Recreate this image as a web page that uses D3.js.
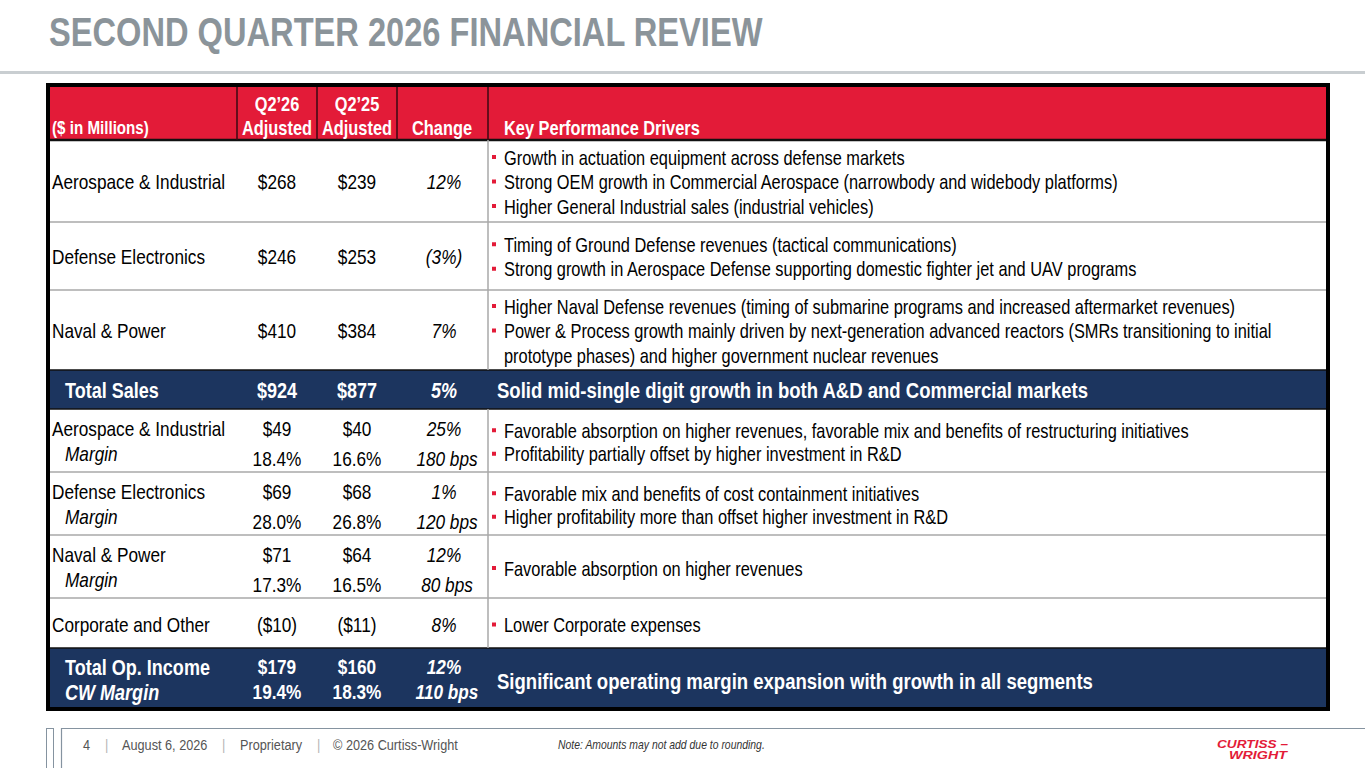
<!DOCTYPE html>
<html>
<head>
<meta charset="utf-8">
<script src="https://cdn.jsdelivr.net/npm/d3@7"></script>
<style>
  html, body { margin: 0; padding: 0; background: #fff; }
  svg { display: block; }
</style>
</head>
<body>
<div id="chart"></div>
<script>
// ---- data ----
const title = 'SECOND QUARTER 2026 FINANCIAL REVIEW'
const headers = ['($ in Millions)', ['Q2\u201926', 'Adjusted'], ['Q2\u201925', 'Adjusted'], 'Change', 'Key Performance Drivers']

const salesSegments = ['Aerospace & Industrial', 'Defense Electronics', 'Naval & Power']
const salesQ226 = [268, 246, 410]
const salesQ225 = [239, 253, 384]
const salesChange = [12, -3, 7]
const salesDrivers = [
  [['Growth in actuation equipment across defense markets'],
   ['Strong OEM growth in Commercial Aerospace (narrowbody and widebody platforms)'],
   ['Higher General Industrial sales (industrial vehicles)']],
  [['Timing of Ground Defense revenues (tactical communications)'],
   ['Strong growth in Aerospace Defense supporting domestic fighter jet and UAV programs']],
  [['Higher Naval Defense revenues (timing of submarine programs and increased aftermarket revenues)'],
   ['Power & Process growth mainly driven by next-generation advanced reactors (SMRs transitioning to initial',
    'prototype phases) and higher government nuclear revenues']]
]
const totalSales = [924, 877, 5]
const totalSalesDriver = 'Solid mid-single digit growth in both A&D and Commercial markets'

const opSegments = ['Aerospace & Industrial', 'Defense Electronics', 'Naval & Power', 'Corporate and Other']
const opQ226 = [49, 69, 71, -10]
const opQ225 = [40, 68, 64, -11]
const opChange = [25, 1, 12, 8]
const marginQ226 = [18.4, 28.0, 17.3]
const marginQ225 = [16.6, 26.8, 16.5]
const marginBps = [180, 120, 80]
const opDrivers = [
  [['Favorable absorption on higher revenues, favorable mix and benefits of restructuring initiatives'],
   ['Profitability partially offset by higher investment in R&D']],
  [['Favorable mix and benefits of cost containment initiatives'],
   ['Higher profitability more than offset higher investment in R&D']],
  [['Favorable absorption on higher revenues']],
  [['Lower Corporate expenses']]
]
const totalOp = [179, 160, 12]
const cwMargin = [19.4, 18.3, 110]
const totalOpDriver = 'Significant operating margin expansion with growth in all segments'

const footerParts = ['4', '|', 'August 6, 2026', '|', 'Proprietary', '|', '\u00a9 2026 Curtiss-Wright']
const footerNote = 'Note: Amounts may not add due to rounding.'
const logoLines = ['CURTISS \u2013', 'WRIGHT']

// ---- formats ----
const money = v => v < 0 ? `($${-v})` : `$${v}`
const pct = v => v < 0 ? `(${-v}%)` : `${v}%`
const marg = v => d3.format('.1f')(v) + '%'
const bps = v => `${v} bps`

// ---- layout ----
const width = 1365
const height = 768
const RED = '#e31b38'
const NAVY = '#1c355f'

// narrow font check, fall back to squeezed Liberation Sans
function hasFont(name) {
  const c = document.createElement('canvas').getContext('2d')
  c.font = '40px monospace'
  const a = c.measureText('abcdefghijMWil').width
  c.font = `40px "${name}", monospace`
  return c.measureText('abcdefghijMWil').width !== a
}
const NARROW = hasFont('Liberation Sans Narrow')
const FAM = NARROW ? '"Liberation Sans Narrow", "Arial Narrow", sans-serif' : '"Liberation Sans", Arial, sans-serif'
const SX = NARROW ? 1 : 0.82

const colX = d3.scaleOrdinal()
  .domain(['label', 'q226', 'q225', 'change', 'drivers'])
  .range([52, 277, 357, 444, 504])
const colEdges = [237, 317, 397, 488]

const rowKeys = ['head', 'sales0', 'sales1', 'sales2', 'totalSales', 'op0', 'op1', 'op2', 'op3', 'totalOp']
const rowBounds = [86, 140, 222, 290, 370, 409, 472, 535, 598, 648, 709]
const rowTop = d3.scaleOrdinal(rowKeys, rowBounds.slice(0, -1))
const rowBot = d3.scaleOrdinal(rowKeys, rowBounds.slice(1))
const rowMid = k => (rowTop(k) + rowBot(k)) / 2

const tableLeft = 48
const tableRight = 1328

const svg = d3
  .select('#chart')
  .append('svg')
  .attr('width', width)
  .attr('height', height)

function txt(g, x, y, s, o = {}) {
  return g.append('text')
    .attr('transform', `translate(${x},${y}) scale(${SX},1)`)
    .attr('dy', '0.35em')
    .attr('font-family', FAM)
    .attr('font-size', o.size || 21)
    .attr('font-weight', o.bold ? 700 : 400)
    .attr('font-style', o.italic ? 'italic' : 'normal')
    .attr('text-anchor', o.anchor || 'start')
    .attr('fill', o.fill || '#000')
    .text(s)
}

// title
txt(svg, 49, 32, title, { size: 39.8, bold: true, fill: '#8b949a' })
svg.append('rect').attr('x', 0).attr('y', 71).attr('width', width).attr('height', 3).attr('fill', '#c9ced1')

// row backgrounds
const g = svg.append('g')
g.selectAll('.rowbg')
  .data(rowKeys)
  .enter()
  .append('rect')
  .attr('class', 'rowbg')
  .attr('x', tableLeft)
  .attr('width', tableRight - tableLeft)
  .attr('y', d => rowTop(d))
  .attr('height', d => rowBot(d) - rowTop(d))
  .attr('fill', d => d === 'head' ? RED : (d.startsWith('total') ? NAVY : '#fff'))

// gray dividers between white rows
const whitePairs = ['sales1', 'sales2', 'op1', 'op2', 'op3']
g.selectAll('.hdiv')
  .data(whitePairs)
  .enter()
  .append('line')
  .attr('x1', tableLeft)
  .attr('x2', tableRight)
  .attr('y1', d => rowTop(d))
  .attr('y2', d => rowTop(d))
  .attr('stroke', '#a8a8a8')
  .attr('stroke-width', 1.5)

// dark lines around navy rows and under header
g.selectAll('.ddiv')
  .data(['sales0', 'totalSales', 'op0', 'totalOp'])
  .enter()
  .append('line')
  .attr('x1', tableLeft)
  .attr('x2', tableRight)
  .attr('y1', d => rowTop(d))
  .attr('y2', d => rowTop(d))
  .attr('stroke', '#111')
  .attr('stroke-width', d => d === 'sales0' ? 2.5 : 1.5)

// vertical dividers
g.selectAll('.vhead')
  .data(colEdges)
  .enter()
  .append('line')
  .attr('x1', d => d).attr('x2', d => d)
  .attr('y1', rowTop('head')).attr('y2', rowBot('head'))
  .attr('stroke', '#3b0a12')
  .attr('stroke-width', 1.5)

const whiteBlocks = [['sales0', 'sales2'], ['op0', 'op3']]
g.selectAll('.vbody')
  .data(whiteBlocks)
  .enter()
  .append('line')
  .attr('x1', colEdges[3]).attr('x2', colEdges[3])
  .attr('y1', d => rowTop(d[0])).attr('y2', d => rowBot(d[1]))
  .attr('stroke', '#a8a8a8')
  .attr('stroke-width', 1.5)

// header text
const hm = rowMid('head')
const hs = { size: 20, bold: true, fill: '#fff' }
txt(g, colX('label'), hm + 15, headers[0], { ...hs, size: 18.5 })
txt(g, colX('q226'), hm - 9, headers[1][0], { ...hs, anchor: 'middle' })
txt(g, colX('q226'), hm + 15, headers[1][1], { ...hs, anchor: 'middle' })
txt(g, colX('q225'), hm - 9, headers[2][0], { ...hs, anchor: 'middle' })
txt(g, colX('q225'), hm + 15, headers[2][1], { ...hs, anchor: 'middle' })
txt(g, colX('change') - 2, hm + 15, headers[3], { ...hs, anchor: 'middle' })
txt(g, colX('drivers'), hm + 15, headers[4], hs)

function drivers(bullets, center, step) {
  const lines = bullets.flatMap(b => b.map((l, j) => ({ text: l, bullet: j === 0 })))
  lines.forEach((l, k) => {
    const y = center + (k - (lines.length - 1) / 2) * step
    if (l.bullet) {
      g.append('rect').attr('x', 492).attr('y', y - 2.5).attr('width', 4).attr('height', 4).attr('fill', RED)
    }
    txt(g, colX('drivers'), y, l.text, { size: 20 })
  })
}

// sales rows
salesSegments.forEach((name, i) => {
  const m = rowMid('sales' + i) + 1
  txt(g, colX('label'), m, name)
  txt(g, colX('q226'), m, money(salesQ226[i]), { anchor: 'middle' })
  txt(g, colX('q225'), m, money(salesQ225[i]), { anchor: 'middle' })
  txt(g, colX('change'), m, pct(salesChange[i]), { anchor: 'middle', italic: true })
  drivers(salesDrivers[i], m, 24.5)
})

// total sales
const ts = rowMid('totalSales') + 0.5
const tw = { size: 22, bold: true, fill: '#fff' }
txt(g, 65, ts, 'Total Sales', tw)
txt(g, colX('q226'), ts, money(totalSales[0]), { ...tw, anchor: 'middle' })
txt(g, colX('q225'), ts, money(totalSales[1]), { ...tw, anchor: 'middle' })
txt(g, colX('change'), ts, pct(totalSales[2]), { ...tw, italic: true, anchor: 'middle' })
txt(g, 497, ts, totalSalesDriver, { ...tw, size: 22.6 })

// operating income rows
opSegments.forEach((name, i) => {
  const key = 'op' + i
  const m = rowMid(key)
  if (i < marginQ226.length) {
    txt(g, colX('label'), m - 11.5, name)
    txt(g, 65, m + 13.5, 'Margin', { italic: true })
    txt(g, colX('q226'), m - 11.5, money(opQ226[i]), { anchor: 'middle' })
    txt(g, colX('q225'), m - 11.5, money(opQ225[i]), { anchor: 'middle' })
    txt(g, colX('change'), m - 11.5, pct(opChange[i]), { anchor: 'middle', italic: true })
    txt(g, colX('q226'), m + 18, marg(marginQ226[i]), { anchor: 'middle' })
    txt(g, colX('q225'), m + 18, marg(marginQ225[i]), { anchor: 'middle' })
    txt(g, colX('change') + 3, m + 18, bps(marginBps[i]), { anchor: 'middle', italic: true })
  } else {
    txt(g, colX('label'), m + 2, name)
    txt(g, colX('q226'), m + 2, money(opQ226[i]), { anchor: 'middle' })
    txt(g, colX('q225'), m + 2, money(opQ225[i]), { anchor: 'middle' })
    txt(g, colX('change'), m + 2, pct(opChange[i]), { anchor: 'middle', italic: true })
  }
  drivers(opDrivers[i], m + 2, 23.5)
})

// total op income
const to = rowMid('totalOp')
txt(g, 65, to - 11.5, 'Total Op. Income', tw)
txt(g, 65, to + 13.5, 'CW Margin', { ...tw, italic: true })
txt(g, colX('q226'), to - 11.5, money(totalOp[0]), { ...tw, size: 21, anchor: 'middle' })
txt(g, colX('q225'), to - 11.5, money(totalOp[1]), { ...tw, size: 21, anchor: 'middle' })
txt(g, colX('change'), to - 11.5, pct(totalOp[2]), { ...tw, size: 21, italic: true, anchor: 'middle' })
txt(g, colX('q226'), to + 13.5, marg(cwMargin[0]), { ...tw, size: 21, anchor: 'middle' })
txt(g, colX('q225'), to + 13.5, marg(cwMargin[1]), { ...tw, size: 21, anchor: 'middle' })
txt(g, colX('change') + 3, to + 13.5, bps(cwMargin[2]), { ...tw, size: 21, italic: true, anchor: 'middle' })
txt(g, 497, to + 3, totalOpDriver, { ...tw, size: 22.6 })

// outer border
svg.append('rect')
  .attr('x', tableLeft).attr('y', 85)
  .attr('width', tableRight - tableLeft).attr('height', 624)
  .attr('fill', 'none').attr('stroke', '#000').attr('stroke-width', 4)

// footer
const ft = svg.append('g')
ft.append('rect').attr('x', 46.5).attr('y', 728.5).attr('width', 7).attr('height', 50)
  .attr('fill', 'none').attr('stroke', '#8593a0').attr('stroke-width', 1)
ft.append('path').attr('d', `M61.5,770V728.5H${width}`)
  .attr('fill', 'none').attr('stroke', '#8593a0').attr('stroke-width', 1.2)
const footX = [83, 105, 122, 222, 240, 317, 333]
footerParts.forEach((s, i) => {
  txt(ft, footX[i], 745, s, { size: 15.5, fill: s === '|' ? '#b5b5b5' : '#555' })
})
txt(ft, 558, 745, footerNote, { size: 12.7, italic: true, fill: '#333' })

// logo: two stacked lines, kept apart so their boxes don't touch
const logoX = [1217, 1229]
const logoY = [747.5, 759]
const logoW = [71, 58]
logoLines.forEach((s, i) => {
  ft.append('text')
    .attr('x', logoX[i]).attr('y', logoY[i])
    .attr('font-family', '"Liberation Sans", Arial, sans-serif')
    .attr('font-size', 10.5).attr('font-weight', 900).attr('font-style', 'italic')
    .attr('fill', RED)
    .attr('textLength', logoW[i]).attr('lengthAdjust', 'spacingAndGlyphs')
    .text(s)
})
</script>
</body>
</html>
